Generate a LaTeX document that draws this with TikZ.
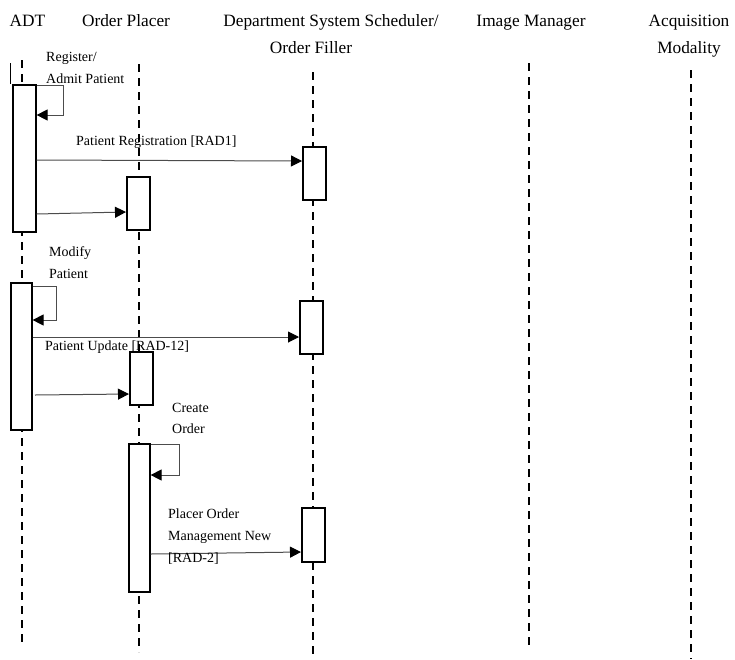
\documentclass[tikz,border=0pt]{standalone}
\usepackage{fontspec}
\setmainfont{Liberation Serif}
\usetikzlibrary{arrows.meta}
\begin{document}
\begin{tikzpicture}[x=1pt,y=-1pt,
  header/.style={inner sep=0pt,anchor=base,font=\fontsize{17.3}{20}\selectfont},
  note/.style={inner sep=0pt,anchor=base west,font=\fontsize{14}{16}\selectfont},
  lifeline/.style={line width=1.6pt,dash pattern=on 8pt off 6pt},
  actbox/.style={draw,fill=white,line width=1.6pt,rectangle,inner sep=0pt,anchor=north west},
  msg/.style={draw=black!70,line width=1pt,-{Triangle[length=11pt,width=11pt,fill=black,color=black]}},
]
\useasboundingbox (0,0) rectangle (735,659);

% participants
\node[header] (hADT) at (27.5,26) {ADT};
\node[header] (hOP) at (126,26) {Order Placer};
\node[header] (hDSS) at (331,26) {Department System Scheduler/};
\node[header] (hDSS2) at (311,53) {Order Filler};
\node[header] (hIM) at (531,26) {Image Manager};
\node[header] (hAM) at (689,26) {Acquisition};
\node[header] (hAM2) at (689,53) {Modality};

% lifelines
\coordinate (adtTop) at (22,60);   \coordinate (adtBot) at (22,647);
\coordinate (opTop) at (139,64);   \coordinate (opBot) at (139,652);
\coordinate (dssTop) at (313,72);  \coordinate (dssBot) at (313,659);
\coordinate (imTop) at (529,63);   \coordinate (imBot) at (529,649);
\coordinate (amTop) at (691,70);   \coordinate (amBot) at (691,659);
\draw[lifeline] (adtTop) -- (adtBot);
\draw[lifeline] (opTop) -- (opBot);
\draw[lifeline] (dssTop) -- (dssBot);
\draw[lifeline] (imTop) -- (imBot);
\draw[lifeline] (amTop) -- (amBot);

% short stroke beside the first ADT activation
\coordinate (tickTop) at (10,63);
\coordinate (tickBot) at (10,84);
\draw[line width=0.7pt] (tickTop) -- (tickBot);

% activation bars
\node[actbox,minimum width=23pt,minimum height=147pt] (adt1) at (12,84) {};
\node[actbox,minimum width=23pt,minimum height=53pt] (op1) at (126,176) {};
\node[actbox,minimum width=23pt,minimum height=53pt] (dss1) at (302,146) {};
\node[actbox,minimum width=21pt,minimum height=147pt] (adt2) at (10,282) {};
\node[actbox,minimum width=23pt,minimum height=53pt] (dss2) at (299,300) {};
\node[actbox,minimum width=23pt,minimum height=53pt] (op2) at (129,351) {};
\node[actbox,minimum width=21pt,minimum height=148pt] (op3) at (128,443) {};
\node[actbox,minimum width=23pt,minimum height=54pt] (dss3) at (301,507) {};

% self calls
\draw[msg] (adt1.east |- 0,85) -- (63,85) -- (63,115) -- (adt1.east |- 0,115);
\draw[msg] (adt2.east |- 0,286) -- (56,286) -- (56,320) -- (adt2.east |- 0,320);
\draw[msg] (op3.east |- 0,444) -- (179,444) -- (179,475) -- (op3.east |- 0,475);

% messages
\draw[msg] (adt1.east |- 0,160) -- (dss1.west |- 0,161);
\draw[msg] (adt1.east |- 0,214) -- (op1.west |- 0,212);
\draw[msg] (adt2.east |- 0,337) -- (dss2.west |- 0,337);
\draw[msg] (35,395) -- (op2.west |- 0,394);
\draw[msg] (op3.east |- 0,554) -- (dss3.west |- 0,552);

% labels
\node[note] (l1a) at (46,61) {Register/};
\node[note] (l1b) at (46,83) {Admit Patient};
\node[note] (l2) at (76,145) {Patient Registration [RAD1]};
\node[note] (l3a) at (49,256) {Modify};
\node[note] (l3b) at (49,278) {Patient};
\node[note] (l4) at (45,350) {Patient Update [RAD-12]};
\node[note] (l5a) at (172,412) {Create};
\node[note] (l5b) at (172,433) {Order};
\node[note] (l6a) at (168,518) {Placer Order};
\node[note] (l6b) at (168,540) {Management New};
\node[note] (l6c) at (168,562) {[RAD-2]};
\end{tikzpicture}
\end{document}
